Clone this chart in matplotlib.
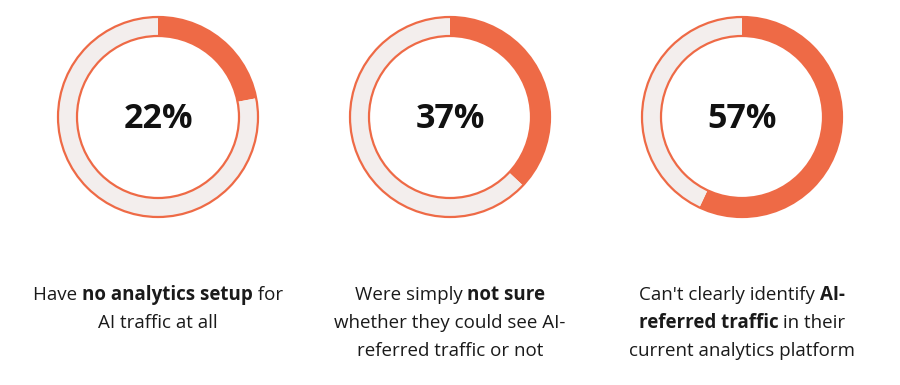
import matplotlib.pyplot as plt
from matplotlib.patches import Circle

# values
pcts = [22, 37, 57]
labels = [
    [[("Have ", False), ("no analytics setup", True), (" for", False)],
     [("AI traffic at all", False)]],
    [[("Were simply ", False), ("not sure", True)],
     [("whether they could see AI-", False)],
     [("referred traffic or not", False)]],
    [[("Can't clearly identify ", False), ("AI-", True)],
     [("referred traffic", True), (" in their", False)],
     [("current analytics platform", False)]],
]

orange = '#EE6A46'
light = '#F3EEED'
font = 'Open Sans'

fig = plt.figure(figsize=(9, 3.85), dpi=100)
W, H = 900, 385
centers = [158, 450, 742]
cy, r = 117, 100

for cx, p in zip(centers, pcts):
    pad = 1.03
    ax = fig.add_axes([(cx - r * pad) / W, (H - cy - r * pad) / H, 2 * r * pad / W, 2 * r * pad / H])
    ax.pie([p, 100 - p], colors=[orange, light], startangle=90, counterclock=False,
           radius=1, wedgeprops=dict(width=0.19, linewidth=0))
    ax.add_patch(Circle((0, 0), 1.0, fill=False, edgecolor=orange, linewidth=1.6))
    ax.add_patch(Circle((0, 0), 0.81, fill=False, edgecolor=orange, linewidth=1.6))
    ax.text(0, -0.02, f"{p}%", ha='center', va='center', fontsize=24.5, fontweight='bold',
            family=font, color='#111111')
    ax.set_xlim(-pad, pad)
    ax.set_ylim(-pad, pad)
    ax.set_aspect('equal')
    ax.axis('off')

# mixed bold/regular label lines, centred under each ring
renderer = fig.canvas.get_renderer()
line_y = [295, 323, 351]
for cx, lines in zip(centers, labels):
    for ly, parts in zip(line_y, lines):
        texts = []
        for s, b in parts:
            t = fig.text(0, 1 - ly / H, s, fontsize=13.5, family=font,
                         fontweight='bold' if b else 'normal', color='#1a1a1a',
                         va='center', ha='left')
            texts.append(t)
        widths = [t.get_window_extent(renderer).width for t in texts]
        x = cx - sum(widths) / 2
        for t, w in zip(texts, widths):
            t.set_x(x / W)
            x += w

fig.savefig('out.png', dpi=100, facecolor='white')
